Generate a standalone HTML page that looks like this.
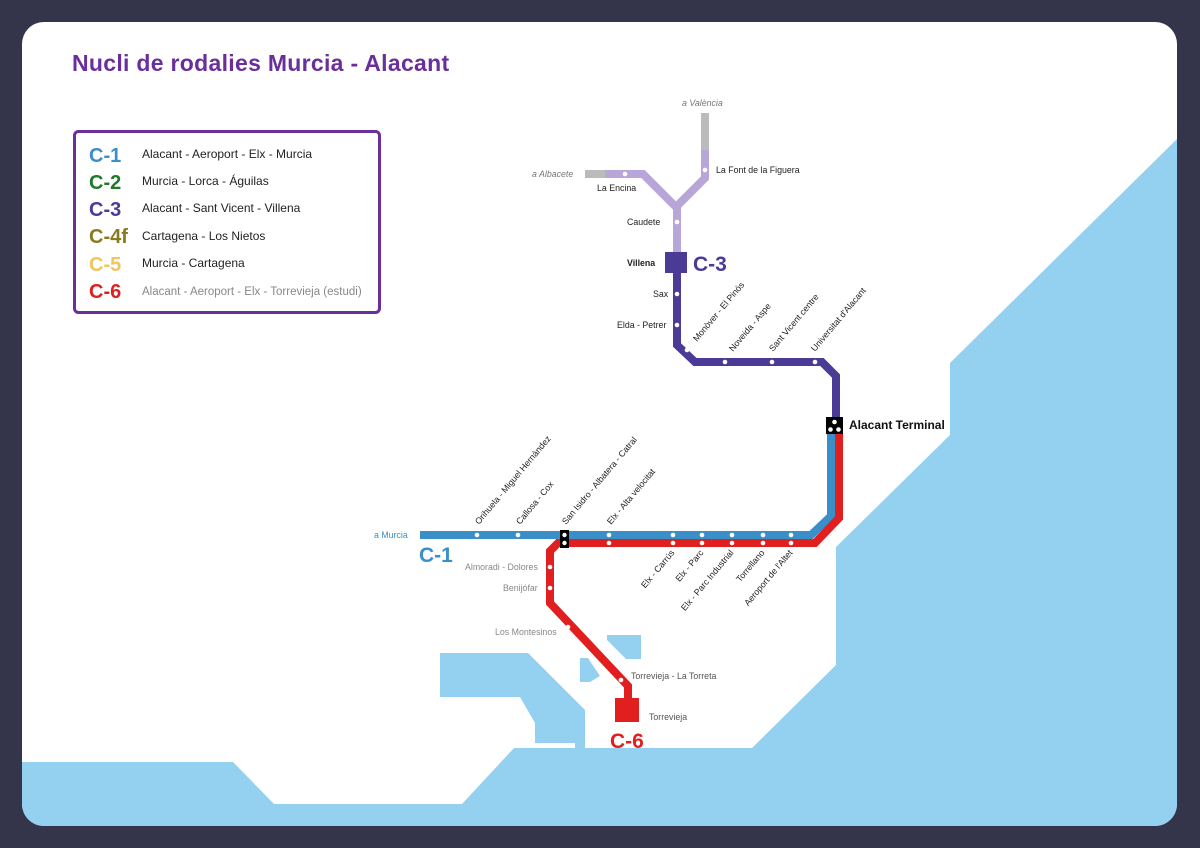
<!DOCTYPE html>
<html><head><meta charset="utf-8"><style>
html,body{margin:0;padding:0;background:#34354a;width:1200px;height:848px;overflow:hidden}
svg{display:block}
text{font-family:"Liberation Sans","DejaVu Sans",sans-serif}
</style></head><body>
<svg width="1200" height="848" viewBox="0 0 1200 848" xmlns="http://www.w3.org/2000/svg">
<defs><clipPath id="card"><rect x="22" y="22" width="1155" height="804" rx="22"/></clipPath></defs>
<rect width="1200" height="848" fill="#34354a"/>
<g clip-path="url(#card)">
<rect x="22" y="22" width="1155" height="804" fill="#ffffff"/>
<polygon fill="#94d1f1" points="1180,136 950,363 950,435 836,547 836,665 752,748 514,748 462,804 274,804 233,762 22,762 22,830 1180,830"/>
<polygon fill="#94d1f1" points="440,653 528,653 585,710 585,750 575,750 575,743 535,743 535,723 520,697 440,697"/>
<polygon fill="#94d1f1" points="580,658 588,658 600,676 590,682 580,682"/>
<polygon fill="#94d1f1" points="607,635 641,635 641,659 626,659 607,640"/>
</g>
<text x="72" y="71" font-size="23" font-weight="bold" fill="#6a2f9a" letter-spacing="0.3">Nucli de rodalies Murcia - Alacant</text>
<rect x="74.5" y="131.5" width="305" height="181" rx="4" fill="#fff" stroke="#6a2f9a" stroke-width="3"/>
<g font-size="20" font-weight="bold">
<text x="89" y="162" fill="#3a8fc9">C-1</text>
<text x="89" y="189" fill="#1f7a2a">C-2</text>
<text x="89" y="216" fill="#4b3a96">C-3</text>
<text x="89" y="243" fill="#8a7a1e">C-4f</text>
<text x="89" y="271" fill="#f1c55a">C-5</text>
<text x="89" y="298" fill="#e21f1f">C-6</text>
</g>
<g font-size="12" fill="#222">
<text x="142" y="158">Alacant - Aeroport - Elx - Murcia</text>
<text x="142" y="185">Murcia - Lorca - Águilas</text>
<text x="142" y="212">Alacant - Sant Vicent - Villena</text>
<text x="142" y="240">Cartagena - Los Nietos</text>
<text x="142" y="267">Murcia - Cartagena</text>
<text x="142" y="295" fill="#888" font-size="11.5">Alacant - Aeroport - Elx - Torrevieja (estudi)</text>
</g>
<g fill="none" stroke-width="8" stroke-linejoin="miter">
<polyline stroke="#bbbbbb" points="585,174 605,174"/>
<polyline stroke="#bbbbbb" points="705,113 705,150"/>
<polyline stroke="#b9a6d8" points="605,174 643,174 677,208 677,255"/>
<polyline stroke="#b9a6d8" points="705,150 705,178 677,206"/>
<polyline stroke="#4b3a96" points="677,262 677,345 695,362 822,362 836,376 836,420"/>
<polyline stroke="#3a8fc9" points="420,535 811,535 831,516 831,430"/>
<polyline stroke="#e21f1f" points="839,430 839,518 815,543 558,543 550,551 550,603 628,686 628,702"/>
</g>
<rect x="665" y="252" width="22" height="21" fill="#4b3a96"/>
<rect x="615" y="698" width="24" height="24" fill="#e21f1f"/>
<rect x="826" y="417" width="17" height="17" fill="#000"/>
<circle cx="834.5" cy="422" r="2.3" fill="#fff"/><circle cx="830.5" cy="429.5" r="2.3" fill="#fff"/><circle cx="838.5" cy="429.5" r="2.3" fill="#fff"/>
<rect x="560" y="530" width="9" height="18" fill="#000"/>
<circle cx="564.5" cy="535" r="2.2" fill="#fff"/><circle cx="564.5" cy="543" r="2.2" fill="#fff"/>
<g fill="#fff">
<circle cx="677" cy="222" r="2.3"/><circle cx="625" cy="174" r="2.3"/><circle cx="705" cy="170" r="2.3"/>
<circle cx="677" cy="294" r="2.3"/><circle cx="677" cy="325" r="2.3"/><circle cx="687" cy="350" r="2.3"/>
<circle cx="725" cy="362" r="2.3"/><circle cx="772" cy="362" r="2.3"/><circle cx="815" cy="362" r="2.3"/>
<circle cx="477" cy="535" r="2.3"/><circle cx="518" cy="535" r="2.3"/>
<circle cx="609" cy="535" r="2.3"/><circle cx="673" cy="535" r="2.3"/><circle cx="702" cy="535" r="2.3"/><circle cx="732" cy="535" r="2.3"/><circle cx="763" cy="535" r="2.3"/><circle cx="791" cy="535" r="2.3"/>
<circle cx="609" cy="543" r="2.3"/><circle cx="673" cy="543" r="2.3"/><circle cx="702" cy="543" r="2.3"/><circle cx="732" cy="543" r="2.3"/><circle cx="763" cy="543" r="2.3"/><circle cx="791" cy="543" r="2.3"/>
<circle cx="550" cy="567" r="2.3"/><circle cx="550" cy="588" r="2.3"/><circle cx="568" cy="627" r="2.3"/><circle cx="621" cy="680" r="2.3"/>
</g>
<text x="693" y="271" font-size="21" font-weight="bold" fill="#4b3a96">C-3</text>
<text x="419" y="562" font-size="21" font-weight="bold" fill="#3a8fc9">C-1</text>
<text x="610" y="748" font-size="21" font-weight="bold" fill="#e21f1f">C-6</text>
<g font-size="8.8" fill="#222">
<text x="682" y="106" font-style="italic" fill="#777">a València</text>
<text x="532" y="177" font-style="italic" fill="#777">a Albacete</text>
<text x="597" y="191">La Encina</text>
<text x="716" y="173">La Font de la Figuera</text>
<text x="627" y="225">Caudete</text>
<text x="627" y="266" font-weight="bold">Villena</text>
<text x="653" y="297">Sax</text>
<text x="617" y="328">Elda - Petrer</text>
<text x="849" y="429" font-size="12" font-weight="bold" fill="#111">Alacant Terminal</text>
<text x="374" y="538" fill="#3a8fc9">a Murcia</text>
<text x="465" y="570" fill="#888">Almoradi - Dolores</text>
<text x="503" y="591" fill="#888">Benijófar</text>
<text x="495" y="635" fill="#888">Los Montesinos</text>
<text x="631" y="679" fill="#555">Torrevieja - La Torreta</text>
<text x="649" y="720" fill="#555">Torrevieja</text>
<text transform="translate(479,525) rotate(-50)">Orihuela - Miguel Hernàndez</text>
<text transform="translate(520,525) rotate(-50)">Callosa - Cox</text>
<text transform="translate(566,525) rotate(-50)">San Isidro - Albatera - Catral</text>
<text transform="translate(611,525) rotate(-50)">Elx - Alta velocitat</text>
<text transform="translate(697,342) rotate(-50)">Monòver - El Pinós</text>
<text transform="translate(733,352) rotate(-50)">Noveida - Aspe</text>
<text transform="translate(773,352) rotate(-50)">Sant Vicent centre</text>
<text transform="translate(815,352) rotate(-50)">Universitat d'Alacant</text>
<text text-anchor="end" transform="translate(675,553) rotate(-50)">Elx - Carrús</text>
<text text-anchor="end" transform="translate(704,553) rotate(-50)">Elx - Parc</text>
<text text-anchor="end" transform="translate(734,553) rotate(-50)">Elx - Parc Industrial</text>
<text text-anchor="end" transform="translate(765,553) rotate(-50)">Torrellano</text>
<text text-anchor="end" transform="translate(793,553) rotate(-50)">Aeroport de l'Altet</text>
</g>
</svg>
</body></html>
